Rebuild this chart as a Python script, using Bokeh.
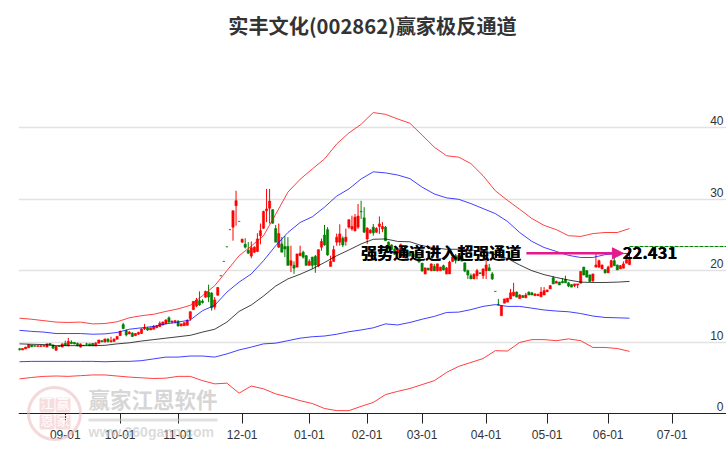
from bokeh.plotting import figure
from bokeh.embed import file_html
from bokeh.resources import INLINE
from bokeh.models import FixedTicker, Label, BoxAnnotation, Arrow, NormalHead, Range1d
from bokeh.core.properties import value
import numpy as np

title_text = "实丰文化(002862)赢家极反通道"
opens = [9.1,8.9,9.05,9.2,9.6,9.5,9.4,9.4,9.42,9.3,
 9.8,9.6,8.85,9.42,9.3,9.8,9.5,10.0,9.95,9.8,
 9.3,9.55,9.75,9.75,9.8,9.45,9.85,10.2,10.0,10.4,
 10.05,10.1,10.4,10.92,12.45,11.6,11.15,11.25,10.9,11.1,
 11.2,11.85,11.95,11.7,11.8,12.0,12.2,12.4,12.6,13.4,
 12.8,12.85,12.9,12.25,12.3,12.35,13.3,14.55,15.05,15.8,
 15.75,16.3,17.0,16.85,14.9,16.55,19.3,21.3,23.35,25.75,
 26.1,29.1,26.9,24.0,23.7,22.85,22.05,22.6,22.7,24.9,
 25.95,28.4,28.75,28.55,25.9,23.3,23.75,23.4,23.4,20.75,
 20.75,20.5,22.1,22.6,22.1,20.75,21.9,22.0,20.7,23.3,
 25,25.75,20.6,21.3,24,24,24.55,24.1,26.1,25.85,
 25.6,26.1,28.3,27.4,24.45,25.3,26.1,25.4,26.2,25.85,
 26.1,24,23.6,23,22.5,21.9,22,22,22.6,22.4,
 21.9,21.8,21.05,19.55,20.35,20,20.6,20,20,20.7,
 19.55,19.55,21.3,22.1,21.6,22.1,21.1,20,19.3,18.85,
 19.3,19.7,19.3,20,20.4,19.55,17.1,15.3,13.7,15.45,
 15.6,16.05,16.5,17,16.1,16.5,16.2,17,16.9,16.5,
 16.5,16.35,16.6,17.05,17.45,19,18.25,18.4,18.5,18.75,
 18.3,18.05,17.9,18,18.25,20.5,20,19.4,18.6,20.5,
 20.5,20.25,20.15,19.7,20.5,21.4,20.8,20.25,20.35,21.05,20.85]
highs = [9.1,9.15,9.35,9.7,9.6,9.55,9.5,9.55,9.6,9.8,
 9.85,9.65,9.45,9.5,9.8,10.2,10.6,10.25,10.0,9.95,
 9.8,9.6,9.9,9.8,9.85,10,10.3,10.25,10.45,10.55,
 10.75,10.45,10.85,11.6,12.7,11.75,11.55,11.4,11.25,11.45,
 11.9,12.55,12.1,12.0,12.4,12.4,12.9,12.9,13.2,13.6,
 13.0,13.1,13.1,12.6,12.75,13.2,14.3,15.75,16.2,17.1,
 16.0,17.2,18.05,17.0,16.3,17.7,19.3,21.3,23.35,25.75,
 28.4,31.2,26.9,24.5,24.55,24.0,24.1,23.4,25.25,26.6,
 28.4,31.45,31.45,28.6,26.4,26.6,24.7,24.85,24.7,23.5,
 21.3,22.35,23.5,22.8,22.2,21.6,21.95,22.2,22.95,24.5,
 26.4,26.1,22.1,23.5,25.2,26.5,24.8,25.9,27.15,27.7,
 27.95,29.35,29.8,28.9,26.1,25.8,26.55,26.1,27.6,26.8,
 26.25,24.1,23.7,23.2,23.1,23.8,22.8,22.9,22.8,22.5,
 22.4,21.9,21.1,20.4,20.4,21.0,20.95,21.0,20.55,20.85,
 20.5,21.4,21.9,22.35,22.2,22.2,21.15,20.15,19.6,19.65,
 20.25,19.75,20.3,21.4,20.95,19.8,17.1,16.05,15.1,16.05,
 16.15,17.45,18.3,17.1,16.7,16.6,16.9,17.1,17.0,16.8,
 16.75,17.7,17.7,17.35,18,19.2,18.6,18.45,18.95,19.3,
 18.4,18.1,18.15,18.15,19.9,20.55,20.05,19.45,19.55,22.35,
 21.55,20.85,20.2,20.7,21.55,21.9,20.85,20.8,21.3,21.6,22.35]
lows = [8.85,8.9,9.05,9.2,9.3,9.4,9.35,9.35,9.4,9.3,
 9.55,9.1,8.8,9.38,9.3,9.5,9.4,9.7,9.7,9.4,
 9.25,9.5,9.5,9.45,9.45,9.45,9.85,10.0,10.0,9.95,
 9.95,10.1,10.4,10.85,11.8,10.8,11.1,10.7,10.9,11.05,
 11.2,11.7,11.55,11.7,11.8,12.0,12.1,12.35,12.5,12.7,
 12.6,12.6,12.2,12.25,12.3,12.35,13.0,14.5,14.9,15.1,
 15.4,16.2,15.6,14.4,14.55,16.55,19.3,21.3,23.35,25.75,
 24.2,26.3,26.9,23.9,23.1,22.4,21.75,22.5,22.6,23.7,
 25.85,26.8,26.6,26.6,24.0,23.2,22.6,21.9,20.75,19.8,
 19.55,20.5,22.1,21.7,20.75,20.75,20.25,19.7,20.5,22.8,
 23.5,22.1,20.6,21.3,23.5,23.5,23.3,23.5,25.9,25.6,
 25.5,25.85,27.25,25.3,23.75,25.2,24.9,25.3,25.15,25.4,
 24.2,23.05,22.9,22.2,22.4,21.8,21.9,21.9,22.0,21.8,
 21.8,21.2,19.9,19.5,20.05,19.95,19.95,19.9,20,20.05,
 19.5,19.55,21.2,21,21.5,21.3,19.8,18.85,18.85,18.85,
 18.8,19.55,18.85,18.85,20,18.7,17.1,15.1,13.7,15.45,
 15.6,16.05,16.4,16.3,16.1,16.25,16.2,16.6,16.6,16.5,
 16.5,16.3,16.6,17.05,17.45,18.15,18.25,18,18.25,18.3,
 17.7,17.7,17.7,17.55,18.25,19.35,19.05,18.45,18.4,20.5,
 20.4,20.2,19.6,19.7,20.5,20.7,20.1,20.25,20.35,21.05,20.85]
closes = [8.9,9.1,9.3,9.65,9.35,9.42,9.5,9.5,9.5,9.75,
 9.6,9.15,9.4,9.4,9.75,9.55,10.1,9.8,9.75,9.5,
 9.75,9.52,9.7,9.5,9.5,9.85,10.3,10.05,10.45,10.1,
 10.2,10.45,10.8,11.5,11.9,11.0,11.4,10.8,11.2,11.35,
 11.85,12.0,11.7,12.0,12.2,12.25,12.65,12.8,13.1,12.8,
 12.95,13.0,12.25,12.55,12.7,13.0,14.25,15.7,15.9,15.2,
 15.55,17.1,16.3,14.8,15.9,17.65,19.3,21.3,23.35,25.75,
 28.4,29.8,26.9,24.4,23.3,22.45,23.2,23.3,24.45,25.6,
 28.3,28.65,29.75,26.65,24.0,25.2,22.6,23.05,20.75,21.4,
 20.35,22.35,22.45,21.9,20.75,21.3,20.75,20.8,22.95,24.1,
 23.6,22.2,21.3,22.95,24.7,25.15,23.6,24.7,27.15,26.2,
 27.5,27.65,28.25,25.4,25.95,25.7,25.3,25.9,26.55,26.2,
 24.2,23.05,23.0,22.3,23.0,23.65,22.7,22.8,22.1,21.9,
 22.3,21.2,19.95,20.4,20.1,20.95,20,20.95,20.5,20.1,
 20.4,21.2,21.9,21.4,22.1,21.35,19.95,19.4,18.85,19.5,
 20,19.6,20.25,20.8,20,18.85,17.1,15.25,15.1,16.05,
 16.15,16.9,17,16.3,16.6,16.25,16.6,16.6,16.6,16.75,
 16.7,17,17.2,17.3,17.9,18.15,18.5,18,18.3,18.3,
 17.85,17.7,18.15,18.15,19.9,19.4,19.1,18.5,19.55,20.8,
 21.4,20.8,19.7,20.5,21.4,20.7,20.1,20.7,20.95,21.55,21.9]

line_days = list(range(0, 201, 4))
upper_red = [13.35,13.2,13.0,12.8,12.75,12.8,12.55,12.6,12.85,13.4,13.7,13.9,14.3,14.65,15.15,16.5,17.9,20,22.1,23.45,
 24.9,27.9,31,32.8,34.25,35.65,37.75,39.3,40.5,42.15,41.9,41.25,40.65,39,37.3,36.1,35.9,35.0,33.3,31.2,
 29.85,28.6,27.3,26.35,25.75,24.9,24.8,25.2,25.35,25.35,25.9]
upper_blue = [11.65,11.5,11.4,11.2,11.2,11.2,11.1,11.15,11.35,11.8,12.0,12.2,12.55,12.8,13.1,14.4,15.15,17.0,18.4,19.55,
 21.4,23.5,25.35,26.75,27.55,28.9,30.45,31.45,32.85,33.85,33.7,33.4,32.9,31.7,30.75,30.2,30,29.4,28.7,28,
 26.9,25.35,24.1,23.25,22.7,22.15,21.85,21.85,22.25,22.4,22.4]
middle = [9.75,9.7,9.65,9.5,9.5,9.5,9.5,9.55,9.75,9.9,10.15,10.35,10.55,10.75,10.95,11.4,11.8,12.8,14.3,15.2,
 16.45,17.85,18.85,19.5,20.25,21.15,22.1,22.9,23.75,24.4,24.45,24.1,24.05,23.5,23.2,23,23,22.9,22.7,22.25,
 21.7,20.8,20,19.45,19.05,18.7,18.4,18.35,18.35,18.4,18.5]
lower_blue = [7.25,7.3,7.3,7.3,7.3,7.3,7.3,7.25,7.3,7.3,7.4,7.65,7.9,7.9,8.05,8.05,7.9,8.35,8.9,9.3,
 9.75,9.85,10.2,10.55,10.75,10.85,11.1,11.45,11.7,12.0,12.55,12.4,12.75,13.2,13.6,14.15,14.2,14.55,15.0,15.25,
 15.0,15.0,14.75,14.5,14.35,14.25,14.0,13.65,13.45,13.4,13.35]
lower_red = [4.85,5.05,5.2,5.25,5.2,5.3,5.4,5.4,5.25,5.1,5.0,4.9,4.95,5.2,5.2,4.6,4.15,4.25,2.85,3.85,
 3.45,2.75,2.3,1.8,1.4,0.7,0.4,0.4,1.0,1.55,2.65,3.1,3.5,4.05,4.6,5.75,6.6,7.15,7.7,8.8,
 8.75,9.95,10.35,10.35,10.2,10.45,10.2,9.25,9.25,9.1,8.7]

date_positions = [15, 33, 52, 73, 95, 114, 132, 153, 173, 193, 214]
date_labels = ["09-01","10-01","11-01","12-01","01-01","02-01","03-01","04-01","05-01","06-01","07-01"]
price_ticks = [0, 10, 20, 30, 40]
signal_text = "强势通道进入超强通道"
last_value = 22.431
green_level = 23.39

PX_PER_DAY = 3.05
UNIT = 7.14
FRAME_W, FRAME_H = 708, 406
BELOW = 37
x0 = -1 / PX_PER_DAY

p = figure(width=726, height=450, output_backend="svg", toolbar_location=None,
           x_range=Range1d(x0, x0 + FRAME_W / PX_PER_DAY),
           y_range=Range1d(-BELOW / UNIT, (FRAME_H - BELOW) / UNIT),
           frame_width=FRAME_W, frame_height=FRAME_H,
           min_border_left=18, min_border_right=0, min_border_top=44, min_border_bottom=0,
           outline_line_color=None, background_fill_color="white", border_fill_color="white")
p.title.text = title_text
p.title.align = "center"
p.title.text_font = "Noto Sans CJK SC"
p.title.text_font_style = "bold"
p.title.text_font_size = "20.2px"
p.title.text_color = "#333333"

p.yaxis.visible = False
p.xgrid.visible = False
p.ygrid.ticker = FixedTicker(ticks=price_ticks[1:])
p.ygrid.grid_line_color = "#e2e2e2"
p.ygrid.grid_line_width = 1.5
ax = p.xaxis[0]
ax.fixed_location = 0
ax.ticker = FixedTicker(ticks=date_positions)
ax.major_label_overrides = dict(zip(date_positions, date_labels))
ax.axis_line_color = "#222222"
ax.major_tick_line_color = "#222222"
ax.major_tick_in = 0
ax.major_tick_out = 10
ax.minor_tick_line_color = None
ax.major_label_standoff = 6
ax.major_label_text_font = "Liberation Sans"
ax.major_label_text_font_size = "12px"
ax.major_label_text_color = "#333333"

o, h, l, c = map(np.array, (opens, highs, lows, closes))
idx = np.arange(len(o))
up = c > o
for mask, color in ((up, "#ff0000"), (~up, "#008000")):
    p.segment(idx[mask], l[mask], idx[mask], h[mask], line_color=color, line_width=1)
    p.vbar(idx[mask], width=0.72, bottom=np.minimum(o, c)[mask], top=np.maximum(o, c)[mask],
           fill_color=color, line_color=color, line_width=0.6)

for series, color in ((upper_red, "#ff0000"), (upper_blue, "#0000ff"), (middle, "#000000"),
                      (lower_blue, "#0000ff"), (lower_red, "#ff0000")):
    p.line(line_days, series, line_color=color, line_width=1, line_alpha=0.75)

p.line([idx[-1], x0 + FRAME_W / PX_PER_DAY], [green_level, green_level],
       line_color="#008000", line_dash="4 1", line_width=1)

# price labels sit just above their grid lines
p.text([x0 + 705 / PX_PER_DAY] * len(price_ticks), price_ticks, text=[str(t) for t in price_ticks],
       text_align="right", text_baseline="middle", y_offset=-7,
       text_font=value("Liberation Sans"), text_font_size="12px", text_color="#333333")

p.add_layout(Arrow(x_start=166.2, y_start=last_value, x_end=198, y_end=last_value,
                   line_color="#e6198c", line_width=2.5,
                   end=NormalHead(size=11, fill_color="#e6198c", line_color="#e6198c")))

for dx in (0, 0.4):
    p.text([112 + dx / PX_PER_DAY], [last_value], text=[signal_text], text_align="left", text_baseline="middle",
           y_offset=-1, text_font=value("Noto Sans CJK SC"), text_font_style="bold", text_font_size="16px",
           text_color="#000000")
    p.text([197.7 + dx / PX_PER_DAY], [last_value], text=[f"{last_value}"], text_align="left", text_baseline="middle",
           y_offset=-1, text_font=value("Noto Sans CJK SC"), text_font_style="bold", text_font_size="16.7px",
           text_color="#000000")

# watermark: screen positions relative to the frame's lower left corner
seal = "#e9b9b9"
B = BELOW
p.add_layout(BoxAnnotation(left=10, right=62, bottom=B - 26, top=B + 26, left_units="screen", right_units="screen",
                           bottom_units="screen", top_units="screen", fill_alpha=0, line_color=seal,
                           line_width=3, line_alpha=0.55, border_radius=26, level="overlay"))
for lx, ly, ch in ((21, 1, "江"), (37, 1, "赢"), (21, -16, "恩"), (37, -16, "家")):
    p.add_layout(BoxAnnotation(left=lx, right=lx + 15, bottom=B + ly, top=B + ly + 15, left_units="screen",
                               right_units="screen", bottom_units="screen", top_units="screen",
                               fill_color="#e58f8f", fill_alpha=0.3, line_color=None, border_radius=2, level="overlay"))
    p.add_layout(Label(x=lx + 1, y=B + ly + 1, x_units="screen", y_units="screen", text=ch, text_color="white",
                       text_font="Noto Sans CJK SC", text_font_size="13px", text_baseline="bottom", level="overlay"))
p.add_layout(Label(x=70, y=B, x_units="screen", y_units="screen", text="赢家江恩软件", text_color="#c4c4c4",
                   text_alpha=0.7, text_font="Noto Sans CJK SC", text_font_style="bold",
                   text_font_size="21.5px", text_baseline="bottom", level="overlay"))
p.add_layout(BoxAnnotation(left=70, right=199, bottom=B - 8, top=B - 5, left_units="screen", right_units="screen",
                           bottom_units="screen", top_units="screen", fill_color="#c4c4c4", fill_alpha=0.5,
                           line_color=None, level="overlay"))
p.add_layout(Label(x=70, y=B - 26, x_units="screen", y_units="screen", text="www.360gann.com", text_color="#c4c4c4",
                   text_alpha=0.6, text_font="Liberation Sans", text_font_style="bold",
                   text_font_size="14px", text_baseline="bottom", level="overlay"))

open("out.html", "w").write(file_html(p, INLINE))
